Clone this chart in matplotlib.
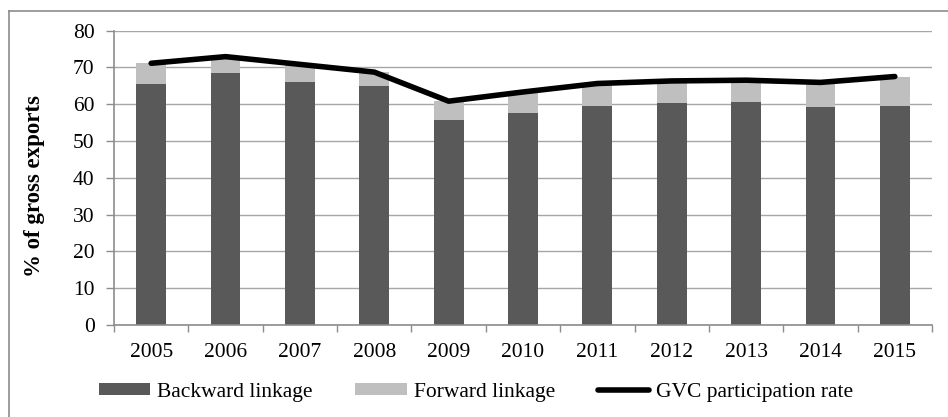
import numpy as np
import matplotlib
matplotlib.use("Agg")
import matplotlib.pyplot as plt
from matplotlib.lines import Line2D

years = ["2005", "2006", "2007", "2008", "2009", "2010",
         "2011", "2012", "2013", "2014", "2015"]
backward = [65.5, 68.4, 66.0, 65.0, 55.7, 57.6, 59.5, 60.4, 60.7, 59.3, 59.6]
forward = [5.6, 4.4, 4.6, 3.6, 5.1, 5.6, 5.9, 5.8, 5.7, 6.5, 7.9]
gvc_rate = [71.1, 72.9, 70.8, 68.7, 60.8, 63.3, 65.6, 66.3, 66.5, 65.9, 67.5]

plt.rcParams['font.family'] = ['Liberation Serif', 'DejaVu Serif']

fig = plt.figure(figsize=(9.48, 4.17), dpi=100)
ax = fig.add_axes([114 / 948, 1 - 325 / 417, (932 - 114) / 948, (325 - 30.5) / 417])

x = np.arange(len(years))
ax.bar(x, backward, width=0.4, color='#595959', zorder=2, label='Backward linkage')
ax.bar(x, forward, width=0.4, bottom=backward, color='#bfbfbf', zorder=2, label='Forward linkage')
ax.plot(x, gvc_rate, color='black', lw=4, solid_capstyle='round', zorder=3,
        label='GVC participation rate')

ax.set_xlim(-0.5, len(years) - 0.5)
ax.set_ylim(0, 80)
ax.set_yticks(np.arange(0, 81, 10))
ax.set_xticks(x)
ax.set_xticklabels(years)
ax.set_xticks(np.arange(-0.5, len(years), 1), minor=True)
ax.tick_params(axis='x', which='major', length=0, labelsize=15.5, pad=13)
ax.tick_params(axis='x', which='minor', length=5, color='#8c8c8c', width=1)
ax.tick_params(axis='y', length=6, color='#8c8c8c', width=1, labelsize=15.5, pad=8)

ax.grid(axis='y', color='#a6a6a6', lw=1, zorder=0)
ax.set_axisbelow(True)
for s in ['top', 'right']:
    ax.spines[s].set_visible(False)
for s in ['left', 'bottom']:
    ax.spines[s].set_color('#8c8c8c')
    ax.spines[s].set_linewidth(1.2)

ax.set_ylabel('% of gross exports', fontsize=16.5, fontweight='bold')
ax.yaxis.set_label_coords((45 - 114) / 818, (325 - 186) / 294.5)

# outer chart border (right and bottom edges fall outside the image)
fig.add_artist(Line2D([9 / 948, 9 / 948], [0, 1 - 11 / 417], color='#8c8c8c', lw=1.2))
fig.add_artist(Line2D([9 / 948, 1], [1 - 11 / 417, 1 - 11 / 417], color='#8c8c8c', lw=1.2))

# cut-off title fragment at the top edge
fig.text(79 / 948, 1 + 4 / 417, 'p', fontsize=14, fontweight='bold', va='baseline')

handles, labels = ax.get_legend_handles_labels()
order = [1, 2, 0]
fig.legend([handles[i] for i in order], [labels[i] for i in order],
           loc='center', bbox_to_anchor=(0.502, 1 - 392 / 417), ncol=3, frameon=False,
           fontsize=15.5, handlelength=2.4, handleheight=0.5, handletextpad=0.3,
           columnspacing=2.0)

fig.savefig('out.png', dpi=100)
